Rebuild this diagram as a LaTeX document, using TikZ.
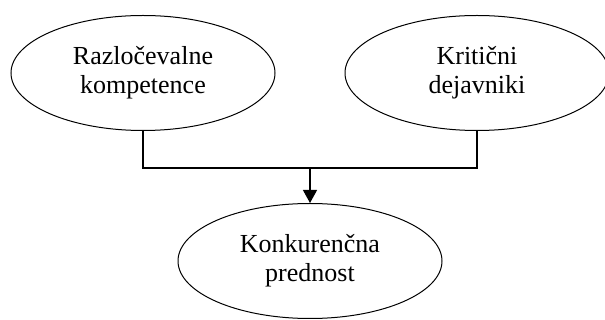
\documentclass[tikz,border=0pt]{standalone}
\usepackage{fontspec}
\setmainfont{Liberation Serif}
\usetikzlibrary{arrows.meta, positioning, shapes.geometric, calc}

\begin{document}
\begin{tikzpicture}[
    font=\fontsize{26}{29}\selectfont,
    node distance=72pt and 69pt,
    oval/.style={
      ellipse,
      draw,
      line width=1pt,
      align=center,
      minimum width=264pt,
      minimum height=115pt,
      inner sep=0pt
    },
    link/.style={
      line width=1.2pt,
      draw=black
    },
    arrow/.style={
      link,
      -{Triangle[length=13pt,width=14pt]}
    }
  ]

    \useasboundingbox (0pt,0pt) rectangle (605pt,-320pt);

    % Top factors
    \node[oval] (razl) at (143pt,-73pt) {Razločevalne\\kompetence};
    \node[oval, right=of razl] (krit) {Kritični\\dejavniki};

    % Join point and result
    \coordinate (mid) at ($(razl.south)!0.5!(krit.south)$);
    \coordinate[below=37pt of mid] (join);
    \node[oval, below=of mid] (konk) {Konkurenčna\\prednost};

    % Connectors
    \draw[link] (razl.south) |- (join) -| (krit.south);
    \draw[arrow] (join) -- (konk);

  \end{tikzpicture}
\end{document}
